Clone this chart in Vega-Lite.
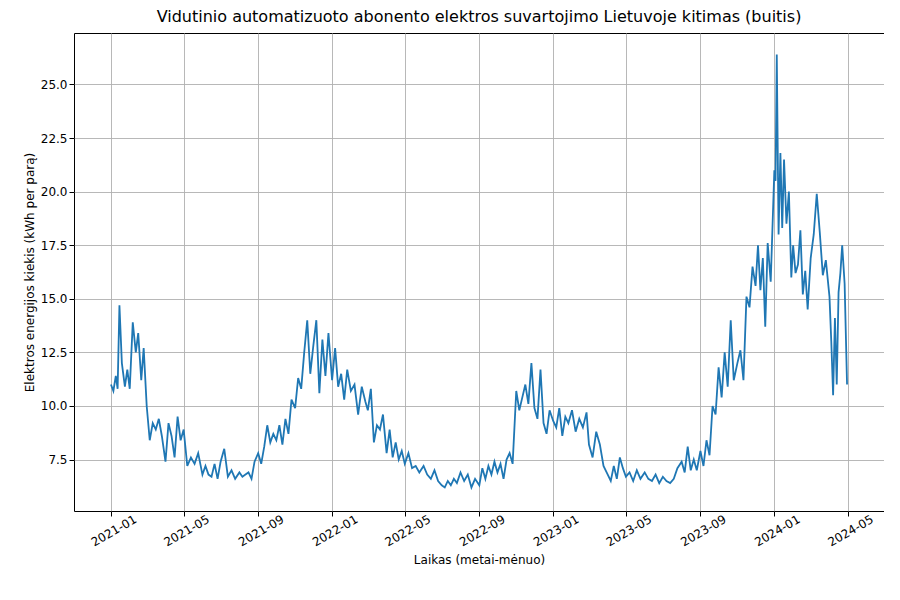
{
"$schema":"https://vega.github.io/schema/vega-lite/v6.json",
"width":810,"height":478,
"padding":{"left":23,"top":9,"right":0,"bottom":0},
"config":{"font":"DejaVu Sans","view":{"stroke":"black","strokeWidth":1},"axis":{"grid":true,"gridColor":"#b0b0b0","gridWidth":0.9,"domain":false,"tickColor":"black","labelColor":"black","labelFontSize":12,"titleFontSize":12,"titleFontWeight":"normal","labelFont":"DejaVu Sans","titleFont":"DejaVu Sans"}},
"title":{"text":"Vidutinio automatizuoto abonento elektros suvartojimo Lietuvoje kitimas (buitis)","fontSize":16,"fontWeight":"normal","font":"DejaVu Sans","offset":8},
"data":{"values":[
{"d":"2021-01-01","v":11.0},{"d":"2021-01-05","v":10.7},{"d":"2021-01-09","v":11.4},{"d":"2021-01-12","v":10.8},{"d":"2021-01-15","v":14.7},{"d":"2021-01-19","v":12.0},{"d":"2021-01-24","v":10.9},{"d":"2021-01-28","v":11.7},
{"d":"2021-02-01","v":10.8},{"d":"2021-02-06","v":13.9},{"d":"2021-02-11","v":12.5},{"d":"2021-02-15","v":13.4},{"d":"2021-02-20","v":11.2},{"d":"2021-02-24","v":12.7},
{"d":"2021-03-01","v":10.0},{"d":"2021-03-06","v":8.4},{"d":"2021-03-11","v":9.2},{"d":"2021-03-16","v":8.9},{"d":"2021-03-21","v":9.4},{"d":"2021-03-26","v":8.6},
{"d":"2021-04-01","v":7.4},{"d":"2021-04-06","v":9.2},{"d":"2021-04-11","v":8.6},{"d":"2021-04-16","v":7.6},{"d":"2021-04-21","v":9.5},{"d":"2021-04-26","v":8.4},
{"d":"2021-05-01","v":8.9},{"d":"2021-05-07","v":7.2},{"d":"2021-05-13","v":7.6},{"d":"2021-05-19","v":7.3},{"d":"2021-05-25","v":7.8},
{"d":"2021-06-01","v":6.8},{"d":"2021-06-06","v":7.2},{"d":"2021-06-11","v":6.8},{"d":"2021-06-16","v":6.7},{"d":"2021-06-21","v":7.3},{"d":"2021-06-26","v":6.6},
{"d":"2021-07-01","v":7.4},{"d":"2021-07-07","v":8.0},{"d":"2021-07-13","v":6.7},{"d":"2021-07-19","v":7.0},{"d":"2021-07-25","v":6.6},
{"d":"2021-08-01","v":6.9},{"d":"2021-08-06","v":6.7},{"d":"2021-08-11","v":6.8},{"d":"2021-08-16","v":6.9},{"d":"2021-08-21","v":6.6},{"d":"2021-08-26","v":7.4},
{"d":"2021-09-01","v":7.8},{"d":"2021-09-06","v":7.3},{"d":"2021-09-11","v":8.1},{"d":"2021-09-16","v":9.1},{"d":"2021-09-21","v":8.3},{"d":"2021-09-26","v":8.7},
{"d":"2021-10-01","v":8.4},{"d":"2021-10-06","v":9.1},{"d":"2021-10-11","v":8.2},{"d":"2021-10-16","v":9.4},{"d":"2021-10-21","v":8.7},{"d":"2021-10-26","v":10.3},
{"d":"2021-11-01","v":9.9},{"d":"2021-11-06","v":11.3},{"d":"2021-11-11","v":10.8},{"d":"2021-11-16","v":12.5},{"d":"2021-11-21","v":14.0},{"d":"2021-11-26","v":11.5},
{"d":"2021-12-01","v":12.8},{"d":"2021-12-06","v":14.0},{"d":"2021-12-11","v":10.6},{"d":"2021-12-16","v":13.1},{"d":"2021-12-21","v":11.4},{"d":"2021-12-26","v":13.4},
{"d":"2022-01-01","v":11.2},{"d":"2022-01-06","v":12.7},{"d":"2022-01-11","v":10.9},{"d":"2022-01-16","v":11.5},{"d":"2022-01-21","v":10.3},{"d":"2022-01-26","v":11.7},
{"d":"2022-02-01","v":10.7},{"d":"2022-02-07","v":11.0},{"d":"2022-02-13","v":9.6},{"d":"2022-02-19","v":10.9},{"d":"2022-02-25","v":10.2},
{"d":"2022-03-01","v":9.8},{"d":"2022-03-06","v":10.8},{"d":"2022-03-11","v":8.3},{"d":"2022-03-16","v":9.1},{"d":"2022-03-21","v":8.9},{"d":"2022-03-26","v":9.6},
{"d":"2022-04-01","v":7.8},{"d":"2022-04-06","v":8.9},{"d":"2022-04-11","v":7.6},{"d":"2022-04-16","v":8.3},{"d":"2022-04-21","v":7.5},{"d":"2022-04-26","v":7.9},
{"d":"2022-05-01","v":7.3},{"d":"2022-05-07","v":7.8},{"d":"2022-05-13","v":7.1},{"d":"2022-05-19","v":7.2},{"d":"2022-05-25","v":6.9},
{"d":"2022-06-01","v":7.2},{"d":"2022-06-07","v":6.8},{"d":"2022-06-13","v":6.6},{"d":"2022-06-19","v":7.0},{"d":"2022-06-25","v":6.5},
{"d":"2022-07-01","v":6.3},{"d":"2022-07-06","v":6.2},{"d":"2022-07-11","v":6.5},{"d":"2022-07-16","v":6.3},{"d":"2022-07-21","v":6.6},{"d":"2022-07-26","v":6.4},
{"d":"2022-08-01","v":6.9},{"d":"2022-08-07","v":6.5},{"d":"2022-08-13","v":6.8},{"d":"2022-08-19","v":6.2},{"d":"2022-08-25","v":6.6},
{"d":"2022-09-01","v":6.3},{"d":"2022-09-06","v":7.1},{"d":"2022-09-11","v":6.6},{"d":"2022-09-16","v":7.2},{"d":"2022-09-21","v":6.8},{"d":"2022-09-26","v":7.4},
{"d":"2022-10-01","v":6.9},{"d":"2022-10-06","v":7.3},{"d":"2022-10-11","v":6.6},{"d":"2022-10-16","v":7.5},{"d":"2022-10-21","v":7.8},{"d":"2022-10-26","v":7.3},
{"d":"2022-11-01","v":10.7},{"d":"2022-11-06","v":9.8},{"d":"2022-11-11","v":10.4},{"d":"2022-11-16","v":11.0},{"d":"2022-11-21","v":10.1},{"d":"2022-11-26","v":12.0},
{"d":"2022-12-01","v":9.9},{"d":"2022-12-06","v":9.4},{"d":"2022-12-11","v":11.7},{"d":"2022-12-16","v":9.2},{"d":"2022-12-21","v":8.7},{"d":"2022-12-26","v":9.8},
{"d":"2023-01-01","v":9.3},{"d":"2023-01-06","v":9.0},{"d":"2023-01-11","v":9.9},{"d":"2023-01-16","v":8.6},{"d":"2023-01-21","v":9.5},{"d":"2023-01-26","v":9.2},
{"d":"2023-02-01","v":9.8},{"d":"2023-02-07","v":8.8},{"d":"2023-02-13","v":9.4},{"d":"2023-02-19","v":9.0},{"d":"2023-02-25","v":9.7},
{"d":"2023-03-01","v":8.2},{"d":"2023-03-07","v":7.6},{"d":"2023-03-13","v":8.8},{"d":"2023-03-19","v":8.2},{"d":"2023-03-25","v":7.2},
{"d":"2023-04-01","v":6.8},{"d":"2023-04-06","v":6.5},{"d":"2023-04-11","v":7.2},{"d":"2023-04-16","v":6.6},{"d":"2023-04-21","v":7.6},{"d":"2023-04-26","v":7.1},
{"d":"2023-05-01","v":6.7},{"d":"2023-05-07","v":6.9},{"d":"2023-05-13","v":6.5},{"d":"2023-05-19","v":7.0},{"d":"2023-05-25","v":6.6},
{"d":"2023-06-01","v":6.9},{"d":"2023-06-07","v":6.6},{"d":"2023-06-13","v":6.5},{"d":"2023-06-19","v":6.8},{"d":"2023-06-25","v":6.4},
{"d":"2023-07-01","v":6.7},{"d":"2023-07-07","v":6.5},{"d":"2023-07-13","v":6.4},{"d":"2023-07-19","v":6.6},{"d":"2023-07-25","v":7.1},
{"d":"2023-08-01","v":7.4},{"d":"2023-08-06","v":6.9},{"d":"2023-08-11","v":8.1},{"d":"2023-08-16","v":7.0},{"d":"2023-08-21","v":7.5},{"d":"2023-08-26","v":7.0},
{"d":"2023-09-01","v":7.9},{"d":"2023-09-06","v":7.2},{"d":"2023-09-11","v":8.4},{"d":"2023-09-16","v":7.7},{"d":"2023-09-21","v":10.0},{"d":"2023-09-26","v":9.6},
{"d":"2023-10-01","v":11.8},{"d":"2023-10-06","v":10.4},{"d":"2023-10-11","v":12.5},{"d":"2023-10-16","v":10.9},{"d":"2023-10-21","v":14.0},{"d":"2023-10-26","v":11.2},
{"d":"2023-11-01","v":12.0},{"d":"2023-11-06","v":12.6},{"d":"2023-11-11","v":11.2},{"d":"2023-11-16","v":15.1},{"d":"2023-11-21","v":14.6},{"d":"2023-11-26","v":16.5},
{"d":"2023-12-01","v":15.6},{"d":"2023-12-05","v":17.5},{"d":"2023-12-09","v":15.4},{"d":"2023-12-13","v":16.9},{"d":"2023-12-17","v":13.7},{"d":"2023-12-21","v":17.6},{"d":"2023-12-26","v":15.8},
{"d":"2024-01-01","v":21.0},{"d":"2024-01-03","v":20.5},{"d":"2024-01-05","v":26.4},{"d":"2024-01-08","v":18.0},{"d":"2024-01-11","v":21.8},{"d":"2024-01-14","v":18.3},{"d":"2024-01-17","v":21.5},{"d":"2024-01-21","v":18.5},{"d":"2024-01-25","v":20.0},{"d":"2024-01-29","v":16.0},
{"d":"2024-02-01","v":17.5},{"d":"2024-02-05","v":16.2},{"d":"2024-02-09","v":16.6},{"d":"2024-02-13","v":18.2},{"d":"2024-02-17","v":15.2},{"d":"2024-02-21","v":16.3},{"d":"2024-02-25","v":14.5},
{"d":"2024-03-01","v":16.9},{"d":"2024-03-06","v":18.0},{"d":"2024-03-11","v":19.9},{"d":"2024-03-16","v":18.1},{"d":"2024-03-21","v":16.1},{"d":"2024-03-26","v":16.8},
{"d":"2024-04-01","v":15.1},{"d":"2024-04-04","v":13.0},{"d":"2024-04-07","v":10.5},{"d":"2024-04-10","v":14.1},{"d":"2024-04-13","v":11.0},{"d":"2024-04-16","v":15.3},{"d":"2024-04-19","v":16.2},{"d":"2024-04-22","v":17.5},{"d":"2024-04-26","v":15.7},{"d":"2024-04-30","v":11.0}
]},
"mark":{"type":"line","color":"#1f77b4","strokeWidth":1.8,"clip":true},
"encoding":{
"x":{"field":"d","type":"temporal","title":"Laikas (metai-mėnuo)","scale":{"domain":["2020-11-01","2024-06-30"]},"axis":{"format":"%Y-%m","labelAngle":-30,"labelAlign":"center","labelBaseline":"top","labelPadding":10,"titlePadding":6,"values":["2021-01-01","2021-05-01","2021-09-01","2022-01-01","2022-05-01","2022-09-01","2023-01-01","2023-05-01","2023-09-01","2024-01-01","2024-05-01"]}},
"y":{"field":"v","type":"quantitative","title":"Elektros energijos kiekis (kWh per parą)","scale":{"domain":[5.1,27.4],"nice":false,"zero":false},"axis":{"values":[7.5,10,12.5,15,17.5,20,22.5,25],"format":".1f"}}
}
}
